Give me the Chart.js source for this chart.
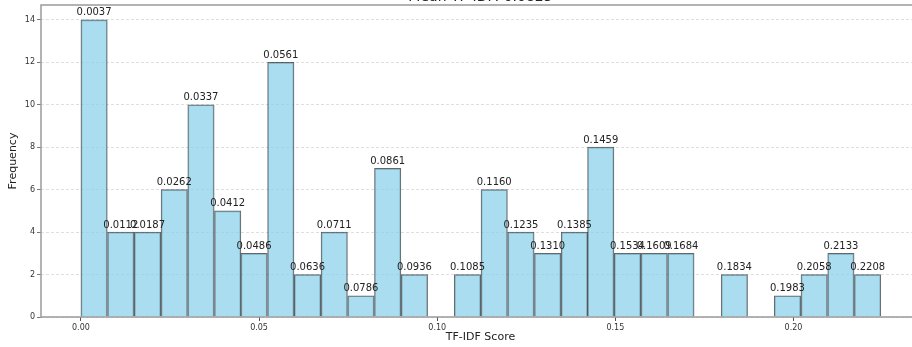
<!DOCTYPE html>
<html>
<head>
<meta charset="utf-8">
<script src="https://cdn.jsdelivr.net/npm/chart.js@4/dist/chart.umd.min.js"></script>
<style>
  html, body { margin: 0; padding: 0; overflow: hidden; background: #fff; }
  #wrap { position: absolute; left: 0; top: -23px; width: 960px; height: 370px; }
  #histChart { display: block; width: 960px; height: 370px; }
</style>
</head>
<body>
<div id="wrap"><canvas id="histChart" width="960" height="370"></canvas></div>
<script>
// bin centres (also printed above each bar) and counts
var binLabels = ['0.0037', '0.0112', '0.0187', '0.0262', '0.0337', '0.0412', '0.0486', '0.0561',
    '0.0636', '0.0711', '0.0786', '0.0861', '0.0936', '0.1085', '0.1160', '0.1235', '0.1310',
    '0.1385', '0.1459', '0.1534', '0.1609', '0.1684', '0.1834', '0.1983', '0.2058', '0.2133', '0.2208'];
var binCounts = [14, 4, 4, 6, 10, 5, 3, 12, 2, 4, 1, 7, 2, 2, 6, 4, 3, 4, 8, 3, 3, 3, 2, 1, 2, 3, 2];
var chartTitle = 'Mean TF-IDF: 0.0825';

var fontFamily = "'DejaVu Sans', sans-serif";

var histPoints = binLabels.map(function(lbl, i) {
    return { x: parseFloat(lbl), y: binCounts[i] };
});

// text above each bar + the box round the plot
var barLabelPlugin = {
    id: 'barLabels',
    afterDatasetsDraw: function(chart) {
        var ctx = chart.ctx;
        var meta = chart.getDatasetMeta(0);
        ctx.save();
        ctx.font = '10px ' + fontFamily;
        ctx.fillStyle = '#222';
        ctx.textAlign = 'center';
        ctx.textBaseline = 'bottom';
        meta.data.forEach(function(bar, i) {
            if (binCounts[i] > 0) {
                ctx.fillText(binLabels[i], bar.x, bar.y - 2);
            }
        });
        ctx.restore();
    },
    afterDraw: function(chart) {
        var a = chart.chartArea;
        var ctx = chart.ctx;
        ctx.save();
        ctx.strokeStyle = '#9a9a9a';
        ctx.lineWidth = 1.5;
        ctx.strokeRect(a.left, a.top, a.right - a.left, a.bottom - a.top);
        ctx.restore();
    }
};

var ctx = document.getElementById('histChart').getContext('2d');
var histChart = new Chart(ctx, {
    type: 'bar',
    data: {
        datasets: [{
            data: histPoints,
            backgroundColor: 'rgba(135, 206, 235, 0.7)',
            borderColor: 'rgba(0, 0, 0, 0.6)',
            borderWidth: 1,
            barPercentage: 1.0,
            categoryPercentage: 1.0
        }]
    },
    options: {
        responsive: false,
        maintainAspectRatio: false,
        animation: false,
        devicePixelRatio: 1,
        layout: { padding: { left: 0, right: 40, top: 0, bottom: 0 } },
        plugins: {
            legend: { display: false },
            tooltip: { enabled: false },
            title: {
                display: true,
                fullSize: false,
                text: chartTitle,
                color: '#222',
                font: { family: fontFamily, size: 14, weight: 'normal', lineHeight: 1 },
                padding: { top: 13.5, bottom: 0.5 }
            }
        },
        scales: {
            x: {
                type: 'linear',
                offset: false,
                min: -0.0112,
                max: 0.2355,
                afterFit: function(scale) { scale.height = 30; },
                border: { display: false },
                grid: {
                    offset: false,
                    drawOnChartArea: false,
                    drawTicks: true,
                    tickLength: 4,
                    tickColor: '#555'
                },
                ticks: {
                    stepSize: 0.05,
                    includeBounds: false,
                    padding: 2,
                    maxRotation: 0,
                    color: '#333',
                    font: { family: fontFamily, size: 8 },
                    callback: function(v) { return v.toFixed(2); }
                },
                title: {
                    display: true,
                    text: 'TF-IDF Score',
                    color: '#222',
                    font: { family: fontFamily, size: 11 },
                    padding: { top: 0, bottom: 3 }
                }
            },
            y: {
                min: 0,
                max: 14.7,
                afterFit: function(scale) { scale.width = 41; },
                border: { display: false, dash: [3, 2] },
                grid: {
                    color: 'rgba(0, 0, 0, 0.16)',
                    tickBorderDash: [],
                    tickColor: '#555',
                    tickLength: 4,
                    lineWidth: 0.8
                },
                ticks: {
                    stepSize: 2,
                    includeBounds: false,
                    padding: 2,
                    color: '#333',
                    font: { family: fontFamily, size: 8 }
                },
                title: {
                    display: true,
                    text: 'Frequency',
                    color: '#222',
                    font: { family: fontFamily, size: 11 },
                    padding: { top: 7, bottom: 0 }
                }
            }
        }
    },
    plugins: [barLabelPlugin]
});
</script>
</body>
</html>
